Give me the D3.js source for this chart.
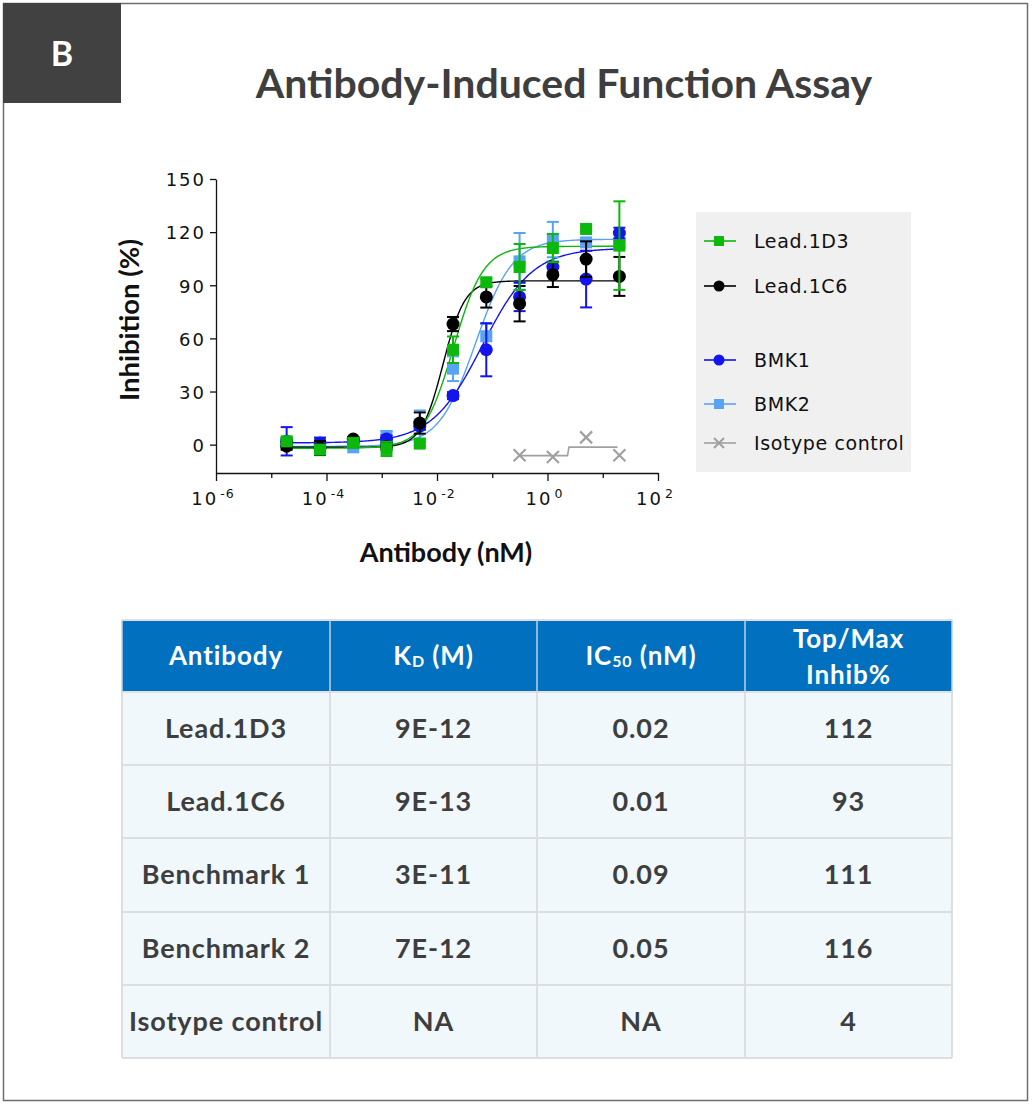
<!DOCTYPE html>
<html><head><meta charset="utf-8">
<script src="https://cdn.jsdelivr.net/npm/d3@7"></script>
<style>
html,body{margin:0;padding:0;background:#fff;}
svg{display:block;}
</style></head>
<body>
<svg id="c" width="1032" height="1106"></svg>
<script>
// ---------- DATA ----------
const concentrations = [1.9e-5, 7.63e-5, 3.05e-4, 1.22e-3, 4.88e-3, 0.0195, 0.078, 0.3125, 1.25, 5, 20];
const lead1D3 = [1.9, -2.8, 1.0, -2.4, 0.6, 53.6, 91.7, 100.3, 111.0, 121.8, 112.4];
const lead1D3Err = [2, 2, 1, 4, 1, 7.5, 2, 13, 8, 1, 25];
const lead1C6 = [-0.9, -1.9, 3.2, -1.0, 12.2, 68.1, 83.4, 79.6, 96.0, 104.8, 95.0];
const lead1C6Err = [2, 4, 1, 2, 6, 4, 6, 10, 7, 10, 11];
const bmk1 = [1.9, 1.0, 1.5, 3.2, 10.4, 27.7, 53.6, 83.4, 100.3, 93.5, 119.5];
const bmk1Err = [8, 3, 1, 2, 2, 2, 15, 8, 3, 16, 3];
const bmk2 = [1.0, 0.5, -1.5, 4.7, 11.3, 42.9, 61.2, 103.5, 115.8, 114.2, 113.5];
const bmk2Err = [2, 3, 1, 3, 8, 7, 7, 16, 10, 2, 2];
const isoConc = [0.3125, 1.25, 5, 20];
const isotype = [-6.0, -7.0, 4.1, -6.0];
// isotype fitted line (as drawn in the reference)
const isoFitX = [0.3125, 2.3, 2.45, 18.5];
const isoFitY = [-6.2, -6.2, -1.4, -1.4];
// 4-parameter logistic fits: [bottom, top, log10 IC50, hill]
const fit1D3 = [-2, 112, -1.70, 1.6];
const fit1C6 = [-1.5, 92.5, -1.89, 2.2];
const fitBMK1 = [1, 111, -1.18, 0.95];
const fitBMK2 = [-1, 116, -1.30, 1.3];

const legendLabels = ["Lead.1D3", "Lead.1C6", "BMK1", "BMK2", "Isotype control"];
const yTicks = [0, 30, 60, 90, 120, 150];
const xTickExps = [-6, -4, -2, 0, 2];

const tableHeaders = ["Antibody", "K|D| (M)", "IC|50| (nM)", "Top/Max|Inhib%"];
const antibodyNames = ["Lead.1D3", "Lead.1C6", "Benchmark 1", "Benchmark 2", "Isotype control"];
const kdValues = ["9E-12", "9E-13", "3E-11", "7E-12", "NA"];
const ic50Values = ["0.02", "0.01", "0.09", "0.05", "NA"];
const topMaxValues = ["112", "93", "111", "116", "4"];

// ---------- DRAW ----------
const svg = d3.select("#c");
const dark = "#3e3e3e";

// outer frame
svg.append("rect").attr("x", 3.5).attr("y", 3.5).attr("width", 1024).attr("height", 1097)
  .attr("fill", "#fff").attr("stroke", "#6e6e6e").attr("stroke-width", 1.5);
svg.append("rect").attr("x", 3).attr("y", 3).attr("width", 118).attr("height", 100).attr("fill", "#414141");
svg.append("text").attr("x", 62).attr("y", 66).attr("text-anchor", "middle")
  .attr("font-family", "Lato").attr("font-weight", 700).attr("font-size", 34).attr("fill", "#fff").text("B");
svg.append("text").attr("x", 564).attr("y", 98).attr("text-anchor", "middle")
  .attr("font-family", "Lato").attr("font-weight", 700).attr("font-size", 41).attr("fill", dark)
  .text("Antibody-Induced Function Assay");

// scales
const x = d3.scaleLog().domain([1e-6, 1e2]).range([216, 658]);
const y = d3.scaleLinear().domain([-16, 150]).range([473, 179]);

// y axis
const yAxis = svg.append("g").attr("transform", "translate(216,0)")
  .call(d3.axisLeft(y).tickValues(yTicks).tickSize(6).tickSizeOuter(0).tickPadding(6));
yAxis.select(".domain").attr("stroke", "#111").attr("stroke-width", 1.3);
yAxis.selectAll(".tick line").attr("stroke", "#111").attr("stroke-width", 1.3);
yAxis.selectAll(".tick text").attr("font-family", "DejaVu Sans").attr("font-size", 18)
  .attr("letter-spacing", 2).attr("fill", "#111").attr("dx", 2).attr("dy", "0.38em");

// x axis
const allDecades = d3.range(-6, 3).map(e => Math.pow(10, e));
const xAxis = svg.append("g").attr("transform", "translate(0,473)")
  .call(d3.axisBottom(x).tickValues(allDecades).tickSizeOuter(0).tickFormat(""));
xAxis.select(".domain").attr("stroke", "#111").attr("stroke-width", 1.3);
xAxis.selectAll(".tick line").attr("stroke", "#111").attr("stroke-width", 1.3)
  .attr("y2", d => (Math.round(Math.log10(d)) % 2 === 0) ? 8 : 5);
xTickExps.forEach(e => {
  const t = svg.append("text").attr("x", x(Math.pow(10, e)) - 3).attr("y", 505)
    .attr("text-anchor", "middle").attr("font-family", "DejaVu Sans").attr("fill", "#111");
  t.append("tspan").attr("font-size", 18).attr("letter-spacing", 2).text("10");
  t.append("tspan").attr("font-size", 12.5).attr("dy", -7).attr("dx", 2).attr("letter-spacing", 1).text(e === 0 ? "0" : (e < 0 ? "-" + (-e) : "" + e));
});

// axis titles
svg.append("text").attr("transform", "translate(139,320) rotate(-90)").attr("text-anchor", "middle")
  .attr("font-family", "Lato").attr("font-weight", 700).attr("font-size", 27.5).attr("fill", "#111")
  .text("Inhibition (%)");
svg.append("text").attr("x", 446).attr("y", 562).attr("text-anchor", "middle")
  .attr("font-family", "Lato").attr("font-weight", 700).attr("font-size", 27).attr("fill", "#111")
  .text("Antibody (nM)");

// legend box
svg.append("rect").attr("x", 696).attr("y", 212).attr("width", 215).attr("height", 260).attr("fill", "#eff0ef");

const plot = svg.append("g");
const fourPL = p => c => p[0] + (p[1] - p[0]) / (1 + Math.pow(10, (p[2] - Math.log10(c)) * p[3]));
const curveLine = d3.line().x(d => x(d[0])).y(d => y(d[1]));
const fineConc = d3.range(0, 301).map(i => Math.pow(10, Math.log10(concentrations[0]) + i * (Math.log10(20) - Math.log10(concentrations[0])) / 300));

const series = [
  {name: legendLabels[3], vals: bmk2, err: bmk2Err, fit: fitBMK2, color: "#58a3f3", shape: "square"},
  {name: legendLabels[2], vals: bmk1, err: bmk1Err, fit: fitBMK1, color: "#1414ee", shape: "circle"},
  {name: legendLabels[1], vals: lead1C6, err: lead1C6Err, fit: fit1C6, color: "#000000", shape: "circle"},
  {name: legendLabels[0], vals: lead1D3, err: lead1D3Err, fit: fit1D3, color: "#0cb80c", shape: "square"}
];

function marker(g, shape, cx, cy, color) {
  if (shape === "square") {
    g.append("rect").attr("x", cx - 6).attr("y", cy - 6).attr("width", 12).attr("height", 12).attr("fill", color);
  } else if (shape === "circle") {
    g.append("circle").attr("cx", cx).attr("cy", cy).attr("r", 6.5).attr("fill", color);
  } else {
    g.append("path").attr("d", `M${cx-6},${cy-6}L${cx+6},${cy+6}M${cx-6},${cy+6}L${cx+6},${cy-6}`)
      .attr("stroke", color).attr("stroke-width", 2.2).attr("fill", "none");
  }
}

// curves
series.forEach(s => {
  const f = fourPL(s.fit);
  plot.append("path").datum(fineConc.map(c => [c, f(c)])).attr("d", curveLine)
    .attr("fill", "none").attr("stroke", s.color).attr("stroke-width", 1.4);
});
// isotype line
plot.append("path").datum(isoFitX.map((c, i) => [c, isoFitY[i]])).attr("d", curveLine)
  .attr("fill", "none").attr("stroke", "#a0a0a0").attr("stroke-width", 1.6);

// error bars + points
series.forEach(s => {
  const g = plot.append("g");
  s.vals.forEach((v, i) => {
    const cx = x(concentrations[i]);
    const e = s.err[i];
    g.append("line").attr("x1", cx).attr("x2", cx).attr("y1", y(v - e)).attr("y2", y(v + e))
      .attr("stroke", s.color).attr("stroke-width", 2);
    [v - e, v + e].forEach(vv => g.append("line").attr("x1", cx - 6).attr("x2", cx + 6)
      .attr("y1", y(vv)).attr("y2", y(vv)).attr("stroke", s.color).attr("stroke-width", 2));
  });
  s.vals.forEach((v, i) => marker(g, s.shape, x(concentrations[i]), y(v), s.color));
});
isotype.forEach((v, i) => marker(plot, "x", x(isoConc[i]), y(v), "#a0a0a0"));

// legend entries
const legendItems = [
  {label: legendLabels[0], color: "#0cb80c", shape: "square", ly: 241},
  {label: legendLabels[1], color: "#000000", shape: "circle", ly: 286},
  {label: legendLabels[2], color: "#1414ee", shape: "circle", ly: 360},
  {label: legendLabels[3], color: "#58a3f3", shape: "square", ly: 404},
  {label: legendLabels[4], color: "#a0a0a0", shape: "x", ly: 443}
];
legendItems.forEach(it => {
  const g = svg.append("g");
  g.append("line").attr("x1", 704).attr("x2", 736).attr("y1", it.ly).attr("y2", it.ly)
    .attr("stroke", it.color).attr("stroke-width", 1.6);
  if (it.shape === "circle") g.append("circle").attr("cx", 719).attr("cy", it.ly).attr("r", 5.5).attr("fill", it.color);
  else if (it.shape === "square") g.append("rect").attr("x", 714).attr("y", it.ly - 5).attr("width", 10).attr("height", 10).attr("fill", it.color);
  else g.append("path").attr("d", `M714,${it.ly-5}L724,${it.ly+5}M714,${it.ly+5}L724,${it.ly-5}`).attr("stroke", it.color).attr("stroke-width", 2);
  g.append("text").attr("x", 754).attr("y", it.ly + 7).attr("font-family", "DejaVu Sans").attr("font-size", 19)
    .attr("letter-spacing", 0.6).attr("fill", "#111").text(it.label);
});

// ---------- TABLE ----------
const colX = [122, 330, 537, 745, 952];
const rowY = [620, 692, 765, 838, 912, 985, 1058];
const tbl = svg.append("g");
tbl.append("rect").attr("x", colX[0]).attr("y", rowY[0]).attr("width", colX[4] - colX[0]).attr("height", rowY[1] - rowY[0]).attr("fill", "#0170bf");
tbl.append("rect").attr("x", colX[0]).attr("y", rowY[1]).attr("width", colX[4] - colX[0]).attr("height", rowY[6] - rowY[1]).attr("fill", "#f1f8fb");
// grid lines
rowY.forEach((ry, i) => tbl.append("line").attr("x1", colX[0]).attr("x2", colX[4]).attr("y1", ry).attr("y2", ry)
  .attr("stroke", i === 1 ? "#dfe3e6" : "#dcdfe1").attr("stroke-width", 2));
colX.forEach(cx => {
  tbl.append("line").attr("x1", cx).attr("x2", cx).attr("y1", rowY[0]).attr("y2", rowY[1]).attr("stroke", "#bcd2ea").attr("stroke-width", 1.5);
  tbl.append("line").attr("x1", cx).attr("x2", cx).attr("y1", rowY[1]).attr("y2", rowY[6]).attr("stroke", "#dcdfe1").attr("stroke-width", 2);
});
const colMid = i => (colX[i] + colX[i + 1]) / 2;
const tfont = t => t.attr("font-family", "Lato").attr("font-weight", 700).attr("text-anchor", "middle").attr("letter-spacing", 0.9);
tableHeaders.forEach((h, i) => {
  const parts = h.split("|");
  const t = tfont(tbl.append("text")).attr("fill", "#fff").attr("font-size", 26).attr("x", colMid(i));
  if (i === 0) t.attr("y", 665).text(parts[0]);
  else if (i === 3) {
    t.attr("y", 648).text(parts[0]);
    tfont(tbl.append("text")).attr("fill", "#fff").attr("font-size", 26).attr("x", colMid(i)).attr("y", 684).text(parts[1]);
  } else {
    t.attr("y", 665);
    t.append("tspan").text(parts[0]);
    t.append("tspan").attr("font-size", 16).attr("dy", 2).text(parts[1]);
    t.append("tspan").attr("dy", -2).text(parts[2]);
  }
});
const cols = [antibodyNames, kdValues, ic50Values, topMaxValues];
cols.forEach((col, ci) => col.forEach((v, ri) => {
  tfont(tbl.append("text")).attr("fill", dark).attr("font-size", 27)
    .attr("x", colMid(ci)).attr("y", (rowY[ri + 1] + rowY[ri + 2]) / 2 + 9).text(v);
}));
</script>
</body></html>
